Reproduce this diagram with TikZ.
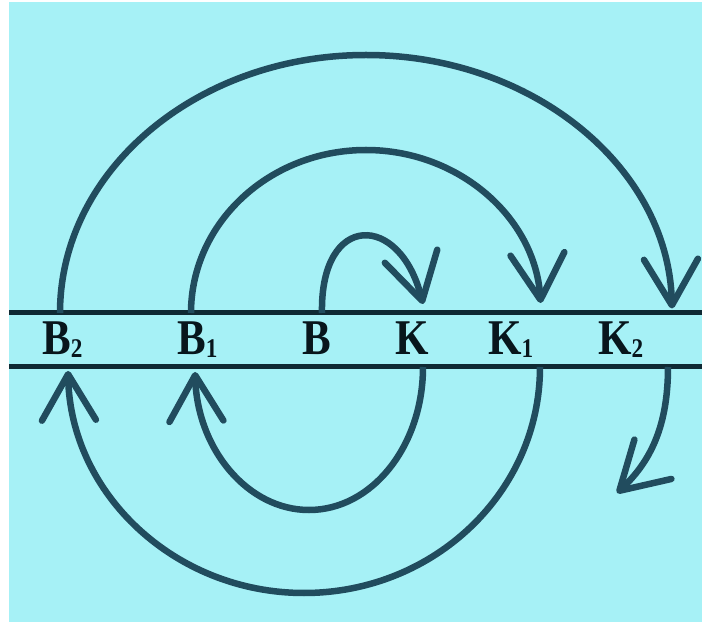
\documentclass[tikz,border=0pt]{standalone}
\usepackage{fontspec}
\setmainfont{Liberation Serif}
\usetikzlibrary{arrows.meta}
\definecolor{bg}{RGB}{166,241,246}
\definecolor{ink}{RGB}{33,76,94}
\definecolor{rulecol}{RGB}{15,42,52}
\definecolor{txt}{RGB}{8,22,28}
\newcommand{\lbltext}[2]{\scalebox{0.86}[1]{\fontsize{50}{50}\selectfont\bfseries #1\raisebox{-3pt}{\fontsize{27}{27}\selectfont #2}}}
\begin{document}
\begin{tikzpicture}[x=1pt,y=1pt,
  curve/.style={draw=ink, line width=6.5pt, -{Straight Barb[length=46pt,width=54pt,line width=6.5pt,round]}},
  band/.style={draw=rulecol, line width=5pt},
  lab/.style={anchor=base west, inner sep=0pt, text=txt}]
\fill[white] (0,0) rectangle (702,622);
\fill[bg] (9,0) rectangle (702,620);
\useasboundingbox (0,0) rectangle (702,622);
% band lines
\coordinate (lt) at (9,309); \coordinate (rt) at (702,309);
\coordinate (lb) at (9,255); \coordinate (rb) at (702,255);
\draw[band] (lt) -- (rt);
\draw[band] (lb) -- (rb);
% labels
\node[lab] (b2) at (42,267) {\lbltext{B}{2}};
\node[lab] (b1) at (177,267) {\lbltext{B}{1}};
\node[lab] (b)  at (302,267) {\lbltext{B}{}};
\node[lab] (k)  at (395,267) {\lbltext{K}{}};
\node[lab] (k1) at (488,267) {\lbltext{K}{1}};
\node[lab] (k2) at (598,267) {\lbltext{K}{2}};
% upper arcs
\coordinate (b2u) at (60,309);
\draw[curve] (b2u) arc[start angle=180,end angle=1,x radius=306,y radius=258];
\coordinate (b1u) at (191,309);
\draw[curve] (b1u) arc[start angle=180,end angle=3.5,x radius=175,y radius=163];
\coordinate (bu) at (322,309);
\coordinate (ku) at (423,318);
\draw[curve] (bu) .. controls (320,410) and (400,410) .. (ku);
% lower arcs
\coordinate (k1d) at (540,255);
\draw[curve] (k1d) arc[start angle=0,end angle=-179,x radius=236,y radius=226];
\coordinate (kd) at (423,255);
\draw[curve] (kd) arc[start angle=0,end angle=-178,x radius=114,y radius=143];
\coordinate (k2d) at (668,255);
\coordinate (k2e) at (617,129);
\draw[curve] (k2d) .. controls (668,195) and (650,160) .. (k2e);
\end{tikzpicture}
\end{document}
